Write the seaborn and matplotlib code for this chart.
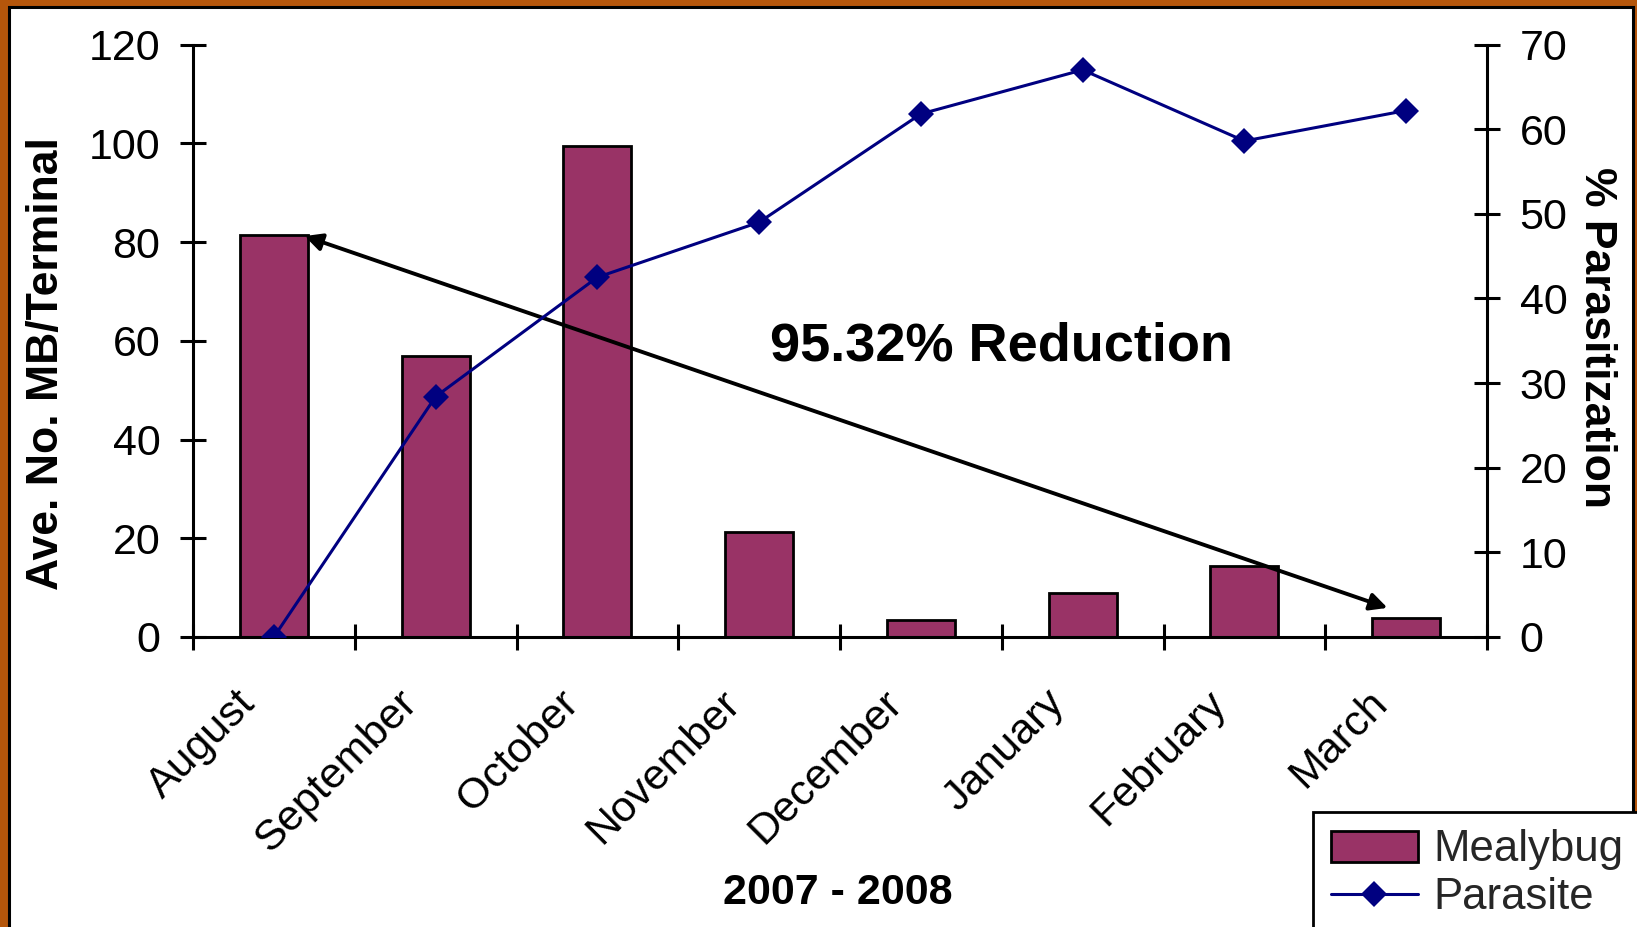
import numpy as np
import pandas as pd
import matplotlib
matplotlib.use("Agg")
import matplotlib.pyplot as plt
from matplotlib.patches import Rectangle
from matplotlib.transforms import ScaledTranslation
import seaborn as sns

months = ["August", "September", "October", "November", "December",
          "January", "February", "March"]
mealybug = [81.5, 57.0, 99.5, 21.2, 3.4, 8.9, 14.4, 3.8]
parasite = [0.0, 28.4, 42.5, 49.0, 61.8, 67.0, 58.6, 62.2]
left_ticks = [0, 20, 40, 60, 80, 100, 120]
right_ticks = [0, 10, 20, 30, 40, 50, 60, 70]

df = pd.DataFrame({"month": months, "Mealybug": mealybug, "Parasite": parasite})

sns.set_theme(style="white")
plt.rcParams["font.family"] = ["Liberation Sans", "DejaVu Sans"]

W, H = 1637, 927
fig = plt.figure(figsize=(W / 100, H / 100), dpi=100)
fig.patch.set_facecolor("#B5560B")

panel = Rectangle((9 / W, -0.05), (1633 - 9) / W, 1.05 - 6.5 / H,
                  transform=fig.transFigure, facecolor="white",
                  edgecolor="black", linewidth=2.2, zorder=-10)
fig.add_artist(panel)

ax = fig.add_axes([193 / W, 1 - 637 / H, (1487 - 193) / W, (637 - 44.5) / H])
ax.patch.set_visible(False)

sns.barplot(data=df, x="month", y="Mealybug", color="#993366", saturation=1,
            edgecolor="black", linewidth=2.0, width=0.42, ax=ax)

ax2 = ax.twinx()
sns.pointplot(data=df, x="month", y="Parasite", color="#000080", markers="D",
              linestyles="-", ax=ax2, markersize=13, linewidth=2.2,
              markeredgewidth=0)

ax.set_ylim(0, 120)
ax2.set_ylim(0, 70)
ax.set_xlim(-0.5, 7.5)

ax.set_yticks(left_ticks)
ax2.set_yticks(right_ticks)

ax.set_xticks(range(len(months)))
ax.set_xticklabels(months, rotation=45, ha="right", rotation_mode="anchor")
ax.set_xticks(np.arange(-0.5, len(months), 1.0), minor=True)
ax.tick_params(axis="x", which="major", length=0, pad=22, labelsize=31,
               colors="black")
ax.tick_params(axis="x", which="minor", direction="inout", length=19,
               width=2.2, color="black", bottom=True)
ax.tick_params(axis="y", direction="inout", length=19, width=2.2,
               labelsize=31, pad=14, colors="black", left=True)
ax2.tick_params(axis="y", direction="inout", length=19, width=2.2,
                labelsize=31, pad=14, colors="black", right=True)

offset = ScaledTranslation(-28 / 72, -11 / 72, fig.dpi_scale_trans)
for lbl in ax.get_xticklabels():
    lbl.set_transform(lbl.get_transform() + offset)

for a in (ax, ax2):
    for s in ("left", "right", "bottom"):
        a.spines[s].set_linewidth(2.2)
        a.spines[s].set_color("black")
    a.spines["top"].set_visible(False)
ax.spines["right"].set_visible(False)
ax2.spines["left"].set_visible(False)
ax2.spines["bottom"].set_visible(False)

ax.set_xlabel("2007 - 2008", fontsize=31, fontweight="bold", color="black")
ax.xaxis.set_label_coords(0.498, -0.432)
ax.xaxis.label.set_va("center")

ax.set_ylabel("Ave. No. MB/Terminal", fontsize=32, fontweight="bold", color="black")
ax.yaxis.set_label_coords(-0.113, 0.461)
ax.yaxis.label.set_va("center")

ax2.set_ylabel("% Parasitization", fontsize=32, fontweight="bold",
               color="black", rotation=-90)
ax2.yaxis.set_label_coords(1.085, 0.505)
ax2.yaxis.label.set_va("center")

ax.annotate("", xy=(0.19, 81.2), xytext=(6.885, 5.9),
            arrowprops=dict(arrowstyle="<|-|>", color="black", lw=2.8,
                            mutation_scale=26, shrinkA=0, shrinkB=0))
ax.text(4.5, 58.9, "95.32% Reduction", ha="center", va="center",
        fontsize=39, fontweight="bold", color="black")

handles = [ax.patches[0], ax2.lines[0]]
leg = fig.legend(handles, ["Mealybug", "Parasite"], loc="upper left",
                 bbox_to_anchor=(1313 / W, 1 - 812 / H),
                 bbox_transform=fig.transFigure, fontsize=31.5,
                 frameon=True, fancybox=False, shadow=False,
                 edgecolor="black", framealpha=1, handlelength=2.0,
                 handletextpad=0.35, labelspacing=0.15, borderpad=0.4,
                 borderaxespad=0)
leg.get_frame().set_linewidth(2.0)

fig.savefig("out.png", dpi=100)
